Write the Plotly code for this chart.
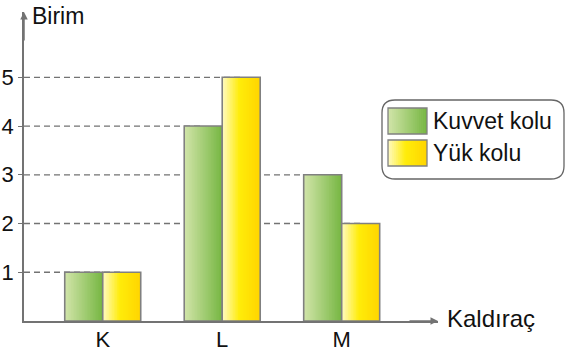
import plotly.graph_objects as go

# ---------------- data ----------------
categories = ["K", "L", "M"]
kuvvet_kolu = [1, 4, 3]
yuk_kolu = [1, 5, 2]
series_names = ["Kuvvet kolu", "Yük kolu"]
y_ticks = [1, 2, 3, 4, 5]
y_title = "Birim"
x_title = "Kaldıraç"

# ---------------- layout constants ----------------
W, H = 565, 353
L, R, T, B = 24, 438, 12, 321
PW, PH = R - L, B - T
X_RANGE = [-0.659, 2.806]
Y_RANGE = [0, 6.34]
BAR_W = 0.318
NSTRIP = 24
GRAY = "#808080"
AXIS = "#737373"
TXT = "#111111"
FONT = "Liberation Sans, Arial, sans-serif"

green_stops = [(0.0, (210, 229, 170)), (1.0, (118, 182, 66))]
yellow_stops = [(0.0, (255, 250, 196)), (0.45, (255, 236, 10)), (1.0, (255, 213, 0))]


def interp(stops, t):
    for (t0, c0), (t1, c1) in zip(stops[:-1], stops[1:]):
        if t <= t1:
            f = (t - t0) / (t1 - t0) if t1 > t0 else 0
            c = [round(a + (b - a) * f) for a, b in zip(c0, c1)]
            return "rgb(%d,%d,%d)" % tuple(c)
    return "rgb(%d,%d,%d)" % stops[-1][1]


def px(x):
    return (x - L) / PW


def py(y):
    return (B - y) / PH


series = [
    (series_names[0], kuvvet_kolu, -BAR_W, green_stops),
    (series_names[1], yuk_kolu, 0.0, yellow_stops),
]

fig = go.Figure()

# gradient bars built from vertical strips
for name, vals, off, stops in series:
    sw = BAR_W / NSTRIP
    for i in range(NSTRIP):
        o = off + i * sw
        w = min(sw * 1.7, off + BAR_W - o)
        fig.add_trace(go.Bar(
            x=categories, y=vals, offset=o, width=w,
            marker=dict(color=interp(stops, (i + 0.5) / NSTRIP), line=dict(width=0)),
            showlegend=False, hoverinfo="skip",
        ))
    fig.add_trace(go.Bar(
        x=categories, y=vals, offset=off, width=BAR_W, name=name,
        marker=dict(color="rgba(0,0,0,0)", line=dict(color=GRAY, width=1.6)),
        showlegend=False,
    ))

# dashed reference lines from the y axis to the farthest bar with that value
shapes = []
for v in y_ticks:
    ends = [ci + off + BAR_W / 2
            for _, vals, off, _ in series
            for ci, val in enumerate(vals) if val == v]
    if not ends:
        continue
    shapes.append(dict(
        type="line", xref="x", yref="y", x0=X_RANGE[0], x1=max(ends), y0=v, y1=v,
        line=dict(color=AXIS, width=1.3, dash="6px,4px"), layer="below",
    ))

# legend box (rounded)
bx0, bx1, by0, by1, r = 382, 564, 100, 179, 13
path = (
    f"M {px(bx0 + r)} {py(by0)} L {px(bx1 - r)} {py(by0)} "
    f"Q {px(bx1)} {py(by0)} {px(bx1)} {py(by0 + r)} L {px(bx1)} {py(by1 - r)} "
    f"Q {px(bx1)} {py(by1)} {px(bx1 - r)} {py(by1)} L {px(bx0 + r)} {py(by1)} "
    f"Q {px(bx0)} {py(by1)} {px(bx0)} {py(by1 - r)} L {px(bx0)} {py(by0 + r)} "
    f"Q {px(bx0)} {py(by0)} {px(bx0 + r)} {py(by0)} Z"
)
shapes.append(dict(type="path", xref="paper", yref="paper", path=path,
                   line=dict(color="#666666", width=1.3), fillcolor="rgba(0,0,0,0)"))

annotations = []
sw_x0, sw_x1 = 388, 427
sw_rows = [(108, 134), (140, 166)]
for (name, _, _, stops), (sy0, sy1) in zip(series, sw_rows):
    n = 20
    step = (sw_x1 - sw_x0) / n
    for i in range(n):
        x0 = sw_x0 + i * step
        x1 = min(x0 + step * 1.6, sw_x1)
        shapes.append(dict(type="rect", xref="paper", yref="paper",
                           x0=px(x0), x1=px(x1), y0=py(sy1), y1=py(sy0),
                           line=dict(width=0), fillcolor=interp(stops, (i + 0.5) / n)))
    shapes.append(dict(type="rect", xref="paper", yref="paper",
                       x0=px(sw_x0), x1=px(sw_x1), y0=py(sy1), y1=py(sy0),
                       line=dict(color=GRAY, width=1.3), fillcolor="rgba(0,0,0,0)"))
    annotations.append(dict(text=name, xref="paper", yref="paper", x=px(431),
                            y=py((sy0 + sy1) / 2), xanchor="left", yanchor="middle",
                            showarrow=False, font=dict(size=23, color=TXT, family=FONT)))

# axis titles
annotations.append(dict(text=y_title, xref="paper", yref="paper", x=px(30), y=py(16),
                        xanchor="left", yanchor="middle", showarrow=False,
                        font=dict(size=23, color=TXT, family=FONT)))
annotations.append(dict(text=x_title, xref="paper", yref="paper", x=px(445), y=py(318),
                        xanchor="left", yanchor="middle", showarrow=False,
                        font=dict(size=24, color=TXT, family=FONT)))
# axis arrowheads
annotations.append(dict(text="", xref="paper", yref="paper", x=0, y=1, ax=0, ay=30,
                        showarrow=True, arrowhead=2, arrowsize=1, arrowwidth=1.5,
                        arrowcolor=AXIS))
annotations.append(dict(text="", xref="paper", yref="paper", x=1, y=0, ax=-30, ay=0,
                        showarrow=True, arrowhead=2, arrowsize=1, arrowwidth=1.5,
                        arrowcolor=AXIS))

fig.update_layout(
    width=W, height=H, autosize=False,
    margin=dict(l=L, r=W - R, t=T, b=H - B, autoexpand=False),
    plot_bgcolor="white", paper_bgcolor="white",
    barmode="overlay", showlegend=False,
    shapes=shapes, annotations=annotations,
    font=dict(family=FONT, color=TXT),
)
fig.update_xaxes(type="category", range=X_RANGE, showline=True, linecolor=AXIS,
                 linewidth=1.5, showgrid=False, zeroline=False, ticks="",
                 automargin=False,
                 tickfont=dict(size=22, color=TXT), ticklabelstandoff=-2)
fig.update_yaxes(range=Y_RANGE, tickvals=y_ticks, showline=True, linecolor=AXIS,
                 linewidth=1.5, showgrid=False, zeroline=False, ticks="outside",
                 automargin=False,
                 ticklen=4, tickcolor=AXIS, tickwidth=1.3,
                 tickfont=dict(size=22, color=TXT), ticklabelstandoff=0)

fig.write_html("out.html")
